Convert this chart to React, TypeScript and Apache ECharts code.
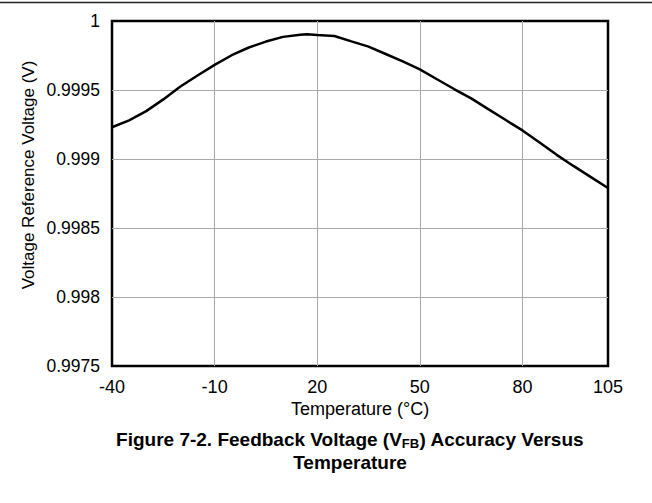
import React, { useEffect, useRef } from 'react';
import * as echarts from 'echarts';

const temperatures = [-40, -35, -30, -25, -20, -15, -10, -5, 0, 5, 10, 15, 17, 20, 25, 30, 35, 40, 45, 50, 55, 60, 65, 70, 75, 80, 85, 90, 95, 100, 105];
const voltages = [
  0.99923, 0.99928, 0.999347, 0.999432, 0.999525, 0.999605, 0.999682, 0.999752, 0.999808,
  0.999851, 0.999885, 0.9999, 0.999904, 0.999899, 0.999891, 0.999852, 0.999814, 0.999761,
  0.999707, 0.99965, 0.999578, 0.999507, 0.999439, 0.999361, 0.999284, 0.999207, 0.99912,
  0.99903, 0.998948, 0.998869, 0.99879,
];
const xMin = -40;
const xMax = 105;
const xStep = 30;
const yMin = 0.9975;
const yMax = 1;
const yStep = 0.0005;

const xTitle = 'Temperature (°C)';
const yTitle = 'Voltage Reference Voltage (V)';

export default function App() {
  const ref = useRef<HTMLDivElement>(null);
  useEffect(() => {
    if (!ref.current) return;
    const chart = echarts.init(ref.current, null, { renderer: 'svg' });
    const font = "'Liberation Sans', Arial, sans-serif";
    chart.setOption({
      animation: false,
      backgroundColor: '#fff',
      grid: {
        left: 112,
        right: 44,
        top: 21,
        bottom: 137,
        show: true,
        borderColor: '#000',
        borderWidth: 2.5,
        backgroundColor: 'transparent',
      },
      xAxis: {
        type: 'value',
        min: 0,
        max: xMax - xMin,
        interval: xStep,
        axisLine: { show: false },
        axisTick: { show: false },
        axisLabel: {
          color: '#000',
          fontFamily: font,
          fontSize: 18,
          margin: 12,
          showMaxLabel: true,
          formatter: (v: number) => String(Math.round(v + xMin)),
        },
        splitLine: {
          show: true,
          showMinLine: false,
          showMaxLine: false,
          lineStyle: { color: '#aaaaaa', width: 1 },
        },
      },
      yAxis: {
        type: 'value',
        min: yMin,
        max: yMax,
        interval: yStep,
        axisLine: { show: false },
        axisTick: { show: false },
        axisLabel: {
          color: '#000',
          fontFamily: font,
          fontSize: 17.5,
          margin: 12,
          formatter: (v: number) => String(parseFloat(v.toFixed(4))),
        },
        splitLine: {
          show: true,
          showMinLine: false,
          showMaxLine: false,
          lineStyle: { color: '#aaaaaa', width: 1 },
        },
      },
      series: [
        {
          type: 'line',
          data: temperatures.map((t, i) => [t - xMin, voltages[i]]),
          showSymbol: false,
          symbol: 'none',
          lineStyle: { color: '#000', width: 2.5 },
          z: 5,
        },
      ],
      graphic: [
        {
          type: 'line',
          shape: { x1: 0, y1: 2.5, x2: 652, y2: 2.5 },
          style: { stroke: '#222', lineWidth: 1.5 },
        },
        {
          type: 'text',
          x: 28,
          y: 175,
          rotation: Math.PI / 2,
          style: {
            text: yTitle,
            fill: '#000',
            font: `17px ${font}`,
            textAlign: 'center',
            textVerticalAlign: 'middle',
            align: 'center',
            verticalAlign: 'middle',
          },
        },
        {
          type: 'text',
          x: 360,
          y: 409,
          style: {
            text: xTitle,
            fill: '#000',
            font: `18px ${font}`,
            textAlign: 'center',
            textVerticalAlign: 'middle',
            align: 'center',
            verticalAlign: 'middle',
          },
        },
        {
          type: 'text',
          x: 350,
          y: 439,
          style: {
            text: '{b|Figure 7-2. Feedback Voltage (V}{s|FB}{b|) Accuracy Versus}',
            align: 'center',
            verticalAlign: 'middle',
            textAlign: 'center',
            textVerticalAlign: 'middle',
            fill: '#000',
            rich: {
              b: { fontSize: 19, fontWeight: 'bold', fontFamily: font, lineHeight: 22, fill: '#000', color: '#000' },
              s: { fontSize: 13, fontWeight: 'bold', fontFamily: font, lineHeight: 22, verticalAlign: 'bottom', padding: [9, 0, 0, 0], fill: '#000', color: '#000' },
            },
          },
        },
        {
          type: 'text',
          x: 350,
          y: 462,
          style: {
            text: 'Temperature',
            fill: '#000',
            font: `bold 19px ${font}`,
            textAlign: 'center',
            textVerticalAlign: 'middle',
            align: 'center',
            verticalAlign: 'middle',
          },
        },
      ],
    });
    return () => chart.dispose();
  }, []);
  return <div ref={ref} style={{ position: 'fixed', left: 0, top: 0, width: 652, height: 503 }} />;
}
